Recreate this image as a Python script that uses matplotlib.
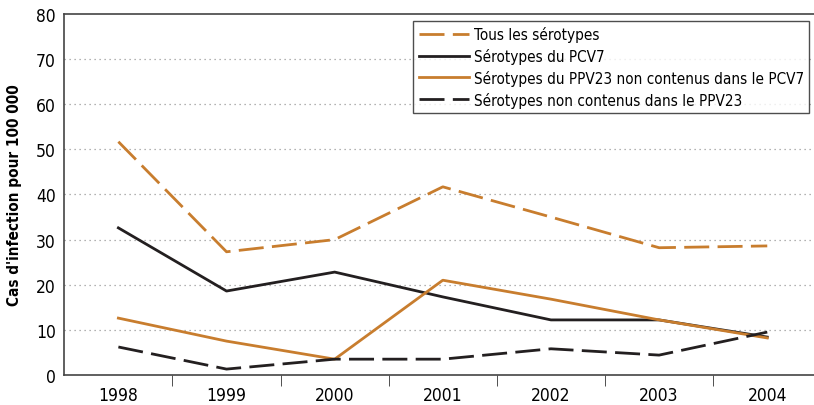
import matplotlib.pyplot as plt
from matplotlib import font_manager

years = ["1998", "1999", "2000", "2001", "2002", "2003", "2004"]
tous = [51.7, 27.3, 30.0, 41.7, 35.0, 28.2, 28.6]
pcv7 = [32.6, 18.6, 22.8, 17.3, 12.2, 12.2, 8.4]
ppv23_non_pcv7 = [12.6, 7.5, 3.5, 21.0, 16.8, 12.2, 8.2]
non_ppv23 = [6.2, 1.3, 3.5, 3.5, 5.8, 4.4, 9.5]

# look for a condensed / narrow face
cands = [f for f in font_manager.fontManager.ttflist
         if ('condensed' in f.fname.lower() or 'narrow' in f.fname.lower())]
reg = [f for f in cands if f.weight in (400, 'normal', 'regular') and f.style == 'normal']
bold = [f for f in cands if f.weight in (700, 'bold') and f.style == 'normal']
if reg:
    rprop = font_manager.FontProperties(fname=reg[0].fname)
    bprop = font_manager.FontProperties(fname=(bold[0].fname if bold else reg[0].fname))
else:
    rprop = font_manager.FontProperties(family='DejaVu Sans')
    bprop = font_manager.FontProperties(family='DejaVu Sans', weight='bold')

orange = "#c87d2e"
dark = "#231f20"

fig = plt.figure(figsize=(8.14, 4.06), dpi=100)
ax = fig.add_axes([0.079, 0.074, 0.93, 0.889])
x = list(range(len(years)))
dash = (0, (9, 3))
ax.plot(x, tous, color=orange, lw=2, linestyle=dash, label="Tous les sérotypes")
ax.plot(x, pcv7, color=dark, lw=2, label="Sérotypes du PCV7")
ax.plot(x, ppv23_non_pcv7, color=orange, lw=2, label="Sérotypes du PPV23 non contenus dans le PCV7")
ax.plot(x, non_ppv23, color=dark, lw=2, linestyle=dash, label="Sérotypes non contenus dans le PPV23")

ax.set_xlim(-0.5, 6.5)
ax.set_ylim(0, 80)
ax.set_yticks(range(0, 81, 10))
ax.set_xticks(x)
ax.set_xticklabels(years)
ax.set_xticks([i + 0.5 for i in range(6)], minor=True)
ax.tick_params(axis='x', which='major', length=0, pad=8)
ax.tick_params(axis='x', which='minor', length=8, direction='out', color='#333333')
ax.tick_params(axis='y', length=0, pad=6)
for lab in ax.get_xticklabels() + ax.get_yticklabels():
    lab.set_fontproperties(rprop)
    lab.set_fontsize(12.5)
for y in range(10, 80, 10):
    ax.axhline(y, color='#999999', lw=0.9, linestyle=(0, (1, 3)), zorder=0)
for s in ['left', 'bottom', 'top']:
    ax.spines[s].set_color('#444444')
    ax.spines[s].set_linewidth(1.2)
ax.spines['right'].set_visible(False)
ax.set_ylabel("Cas d'infection pour 100 000", fontproperties=bprop, fontsize=11, labelpad=10)

lprop = rprop.copy()
lprop.set_size(11)
leg = ax.legend(loc='upper left', bbox_to_anchor=(0.461, 0.981), prop=lprop,
                frameon=True, fancybox=False, edgecolor='#222222', handlelength=3.3,
                handletextpad=0.3, borderpad=0.35, labelspacing=0.38, borderaxespad=0)
leg.get_frame().set_linewidth(1.0)

fig.savefig("out.png", dpi=100)
